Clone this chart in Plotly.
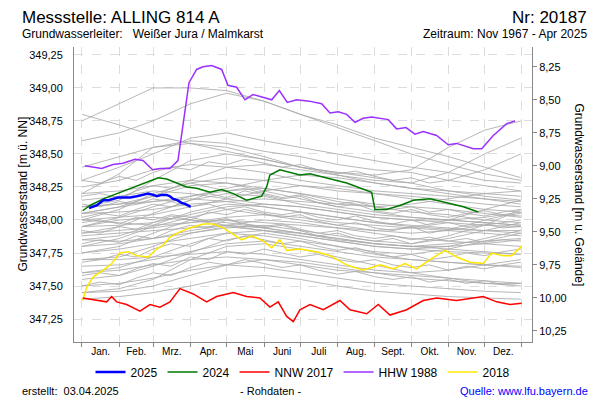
import plotly.graph_objects as go

# ---------------- data ----------------
month_names = ["Jan.", "Feb.", "Mrz.", "Apr.", "Mai", "Juni", "Juli", "Aug.", "Sept.", "Okt.", "Nov.", "Dez."]
month_starts = [0, 31, 59, 90, 120, 151, 181, 212, 243, 273, 304, 334, 365]
month_mids = [15.5, 45, 74.5, 105, 135.5, 166, 196.5, 227.5, 258, 288.5, 319, 349.5]
left_ticks = [347.25, 347.50, 347.75, 348.00, 348.25, 348.50, 348.75, 349.00, 349.25]
right_ticks = [8.25, 8.50, 8.75, 9.00, 9.25, 9.50, 9.75, 10.00, 10.25]
ground_level = 357.41

# grey background years (values at month starts)
grey_days = [0, 31, 59, 90, 120, 151, 181, 212, 243, 273, 304, 334, 364]
grey_years = [
    [348.75, 348.88, 349.00, 349.00, 348.98, 348.90, 348.80, 348.70, 348.60, 348.50, 348.42, 348.35, 348.30],
    [348.60, 348.66, 348.75, 348.88, 348.96, 348.90, 348.80, 348.72, 348.62, 348.55, 348.48, 348.40, 348.32],
    [348.80, 348.72, 348.64, 348.58, 348.52, 348.46, 348.40, 348.36, 348.32, 348.28, 348.22, 348.18, 348.15],
    [348.30, 348.40, 348.50, 348.62, 348.66, 348.60, 348.55, 348.50, 348.45, 348.40, 348.36, 348.30, 348.28],
    [348.20, 348.35, 348.55, 348.60, 348.58, 348.52, 348.48, 348.42, 348.38, 348.36, 348.30, 348.26, 348.22],
    [348.10, 348.15, 348.30, 348.45, 348.50, 348.46, 348.40, 348.36, 348.34, 348.38, 348.55, 348.68, 348.75],
    [348.05, 348.10, 348.18, 348.30, 348.40, 348.42, 348.38, 348.34, 348.30, 348.28, 348.36, 348.50, 348.62],
    [348.00, 348.08, 348.20, 348.28, 348.32, 348.30, 348.26, 348.22, 348.20, 348.18, 348.15, 348.12, 348.10],
    [347.95, 348.02, 348.10, 348.18, 348.22, 348.24, 348.20, 348.16, 348.12, 348.10, 348.08, 348.05, 348.02],
    [348.15, 348.18, 348.22, 348.20, 348.16, 348.12, 348.10, 348.06, 348.02, 348.00, 347.98, 347.96, 347.95],
    [348.10, 348.12, 348.18, 348.26, 348.28, 348.24, 348.20, 348.14, 348.10, 348.06, 348.04, 348.00, 347.98],
    [348.05, 348.06, 348.08, 348.12, 348.14, 348.16, 348.14, 348.12, 348.10, 348.12, 348.16, 348.20, 348.22],
    [347.90, 347.95, 348.05, 348.15, 348.20, 348.18, 348.12, 348.08, 348.04, 348.02, 348.00, 347.98, 347.96],
    [347.85, 347.88, 347.96, 348.06, 348.12, 348.10, 348.06, 348.02, 347.98, 347.96, 347.94, 347.92, 347.90],
    [348.00, 347.98, 347.96, 347.98, 348.02, 348.04, 348.02, 347.98, 347.96, 347.94, 347.92, 347.90, 347.88],
    [347.80, 347.86, 347.95, 348.02, 348.08, 348.04, 348.00, 347.96, 347.92, 347.90, 347.92, 347.96, 348.00],
    [347.75, 347.80, 347.90, 348.00, 347.98, 347.94, 347.90, 347.86, 347.82, 347.80, 347.78, 347.76, 347.74],
    [347.70, 347.72, 347.80, 347.90, 347.95, 347.92, 347.88, 347.84, 347.80, 347.78, 347.80, 347.86, 347.92],
    [347.95, 348.00, 348.02, 348.00, 347.96, 347.92, 347.88, 347.84, 347.80, 347.78, 347.76, 347.75, 347.74],
    [347.85, 347.84, 347.86, 347.90, 347.94, 347.96, 347.92, 347.88, 347.84, 347.82, 347.86, 347.92, 347.98],
    [347.65, 347.66, 347.70, 347.76, 347.82, 347.84, 347.80, 347.76, 347.72, 347.70, 347.68, 347.66, 347.64],
    [347.60, 347.62, 347.66, 347.70, 347.72, 347.70, 347.66, 347.62, 347.60, 347.58, 347.56, 347.54, 347.52],
    [347.50, 347.52, 347.56, 347.62, 347.66, 347.64, 347.60, 347.56, 347.52, 347.50, 347.48, 347.46, 347.45],
    [347.45, 347.48, 347.55, 347.70, 347.80, 347.82, 347.78, 347.72, 347.66, 347.60, 347.56, 347.52, 347.50],
    [347.55, 347.58, 347.65, 347.75, 347.85, 347.90, 347.86, 347.80, 347.74, 347.70, 347.68, 347.66, 347.65],
    [347.40, 347.42, 347.45, 347.50, 347.56, 347.58, 347.55, 347.50, 347.46, 347.44, 347.42, 347.41, 347.40],
    [347.70, 347.70, 347.72, 347.74, 347.76, 347.74, 347.70, 347.66, 347.62, 347.60, 347.62, 347.66, 347.70],
    [348.20, 348.22, 348.26, 348.30, 348.28, 348.22, 348.16, 348.10, 348.06, 348.02, 348.00, 347.98, 347.96],
    [347.90, 347.92, 347.94, 347.98, 348.00, 347.98, 347.96, 347.94, 347.92, 347.94, 348.00, 348.08, 348.15],
    [348.00, 348.02, 348.04, 348.10, 348.16, 348.22, 348.26, 348.24, 348.20, 348.16, 348.12, 348.08, 348.06],
    [347.80, 347.82, 347.86, 347.92, 347.96, 348.00, 347.98, 347.94, 347.90, 347.86, 347.84, 347.82, 347.80],
    [348.25, 348.30, 348.38, 348.42, 348.40, 348.36, 348.30, 348.26, 348.22, 348.20, 348.18, 348.16, 348.14],
    [348.10, 348.12, 348.14, 348.18, 348.24, 348.30, 348.34, 348.32, 348.28, 348.24, 348.22, 348.20, 348.18],
    [347.88, 347.90, 347.92, 347.94, 347.96, 347.94, 347.90, 347.85, 347.82, 347.80, 347.82, 347.84, 347.86],
    [347.60, 347.64, 347.72, 347.82, 347.90, 347.92, 347.90, 347.86, 347.82, 347.80, 347.80, 347.82, 347.85],
    [348.05, 348.10, 348.14, 348.16, 348.14, 348.10, 348.06, 348.02, 347.98, 347.95, 347.93, 347.92, 347.92],
    [347.95, 347.96, 347.98, 348.04, 348.10, 348.12, 348.10, 348.06, 348.02, 348.00, 348.00, 348.02, 348.06],
    [347.45, 347.46, 347.50, 347.58, 347.66, 347.70, 347.68, 347.64, 347.60, 347.56, 347.54, 347.52, 347.52],
    [348.40, 348.48, 348.55, 348.58, 348.55, 348.48, 348.40, 348.34, 348.28, 348.24, 348.20, 348.16, 348.12],
    [347.75, 347.78, 347.82, 347.86, 347.90, 347.88, 347.84, 347.80, 347.76, 347.74, 347.78, 347.84, 347.90],
]

# grey years with half-monthly readings
grey_days_half = [0, 15, 31, 45, 59, 74, 90, 105, 120, 135, 151, 166, 181, 196, 212, 227, 243, 258, 273,
                  288, 304, 319, 334, 349, 364]
grey_years_half = [
    [348.02, 348.05, 348.03, 348.08, 348.12, 348.10, 348.15, 348.20, 348.17, 348.22, 348.19, 348.16, 348.18,
     348.13, 348.10, 348.12, 348.07, 348.05, 348.08, 348.04, 348.02, 348.05, 348.03, 348.06, 348.08],
    [347.92, 347.90, 347.95, 347.93, 347.98, 348.03, 348.00, 348.06, 348.04, 348.08, 348.05, 348.02, 348.04,
     347.99, 347.96, 347.98, 347.94, 347.92, 347.95, 347.90, 347.93, 347.96, 348.00, 348.03, 348.05],
    [348.18, 348.20, 348.17, 348.22, 348.26, 348.24, 348.28, 348.25, 348.22, 348.24, 348.20, 348.17, 348.19,
     348.15, 348.12, 348.14, 348.10, 348.08, 348.10, 348.06, 348.08, 348.05, 348.07, 348.04, 348.03],
    [347.82, 347.85, 347.83, 347.88, 347.86, 347.92, 347.96, 347.94, 348.00, 347.97, 347.94, 347.96, 347.92,
     347.88, 347.90, 347.86, 347.84, 347.86, 347.82, 347.85, 347.88, 347.92, 347.96, 348.02, 348.08],
    [347.68, 347.70, 347.74, 347.72, 347.78, 347.82, 347.80, 347.86, 347.84, 347.88, 347.85, 347.82, 347.84,
     347.80, 347.77, 347.79, 347.75, 347.72, 347.74, 347.70, 347.72, 347.75, 347.73, 347.76, 347.78],
    [348.12, 348.10, 348.14, 348.12, 348.16, 348.14, 348.10, 348.12, 348.08, 348.10, 348.06, 348.04, 348.06,
     348.02, 348.00, 348.03, 347.99, 347.97, 348.00, 347.96, 347.98, 347.95, 347.97, 347.94, 347.95],
    [347.58, 347.60, 347.58, 347.63, 347.67, 347.65, 347.72, 347.70, 347.76, 347.74, 347.78, 347.75, 347.72,
     347.74, 347.70, 347.68, 347.70, 347.66, 347.64, 347.66, 347.62, 347.65, 347.63, 347.66, 347.68],
    [348.30, 348.28, 348.33, 348.30, 348.36, 348.40, 348.38, 348.44, 348.42, 348.46, 348.43, 348.40, 348.42,
     348.38, 348.35, 348.37, 348.33, 348.30, 348.32, 348.28, 348.30, 348.34, 348.38, 348.44, 348.50],
    [347.98, 348.00, 347.97, 348.02, 348.00, 348.04, 348.02, 347.99, 348.01, 347.97, 347.95, 347.97, 347.93,
     347.90, 347.92, 347.88, 347.86, 347.88, 347.85, 347.87, 347.84, 347.86, 347.83, 347.85, 347.84],
    [347.50, 347.53, 347.51, 347.56, 347.60, 347.58, 347.64, 347.68, 347.66, 347.70, 347.67, 347.64, 347.66,
     347.62, 347.59, 347.61, 347.57, 347.55, 347.57, 347.53, 347.55, 347.52, 347.54, 347.51, 347.52],
]

# HHW 1988
hhw_days = [2.5, 16.3, 25.7, 34, 44, 50.6, 58.6, 64.7, 73, 79.6, 88.8, 95.1, 100.4, 107.6, 115.9, 121.1,
            128.3, 135.2, 141.8, 150.1, 157.4, 163.7, 170.3, 178.1, 188.5, 198.8, 205.7, 212.6, 219.6,
            226.5, 233.3, 240.3, 254.1, 261, 268.8, 276.2, 283.1, 294.2, 303.8, 310.8, 317.7, 324.6,
            331.6, 341.2, 352.3, 359.2]
hhw_vals = [348.41, 348.39, 348.42, 348.43, 348.46, 348.45, 348.38, 348.39, 348.39, 348.45, 349.04, 349.14,
            349.16, 349.17, 349.14, 349.02, 349.005, 348.91, 348.95, 348.93, 348.91, 348.98, 348.89, 348.91,
            348.90, 348.88, 348.81, 348.82, 348.80, 348.74, 348.77, 348.78, 348.76, 348.69, 348.70, 348.65,
            348.67, 348.64, 348.57, 348.58, 348.56, 348.54, 348.54, 348.64, 348.73, 348.75]

# 2025
y2025_days = [5.8, 9, 12.2, 15, 17.7, 22, 26, 30, 34.3, 40, 45.4, 50, 55, 59, 62, 66, 70.3, 73, 75.7, 79, 82.7, 86, 90.2]
y2025_vals = [348.09, 348.10, 348.11, 348.13, 348.15, 348.15, 348.16, 348.17, 348.17, 348.17, 348.18, 348.19,
              348.20, 348.19, 348.18, 348.19, 348.19, 348.18, 348.16, 348.15, 348.13, 348.12, 348.10]

# 2024
y2024_days = [0.6, 6.6, 17.7, 31.5, 45.4, 56.4, 63.3, 70.3, 78.6, 86.8, 95.1, 106.2, 115.9, 125.5, 136.6,
              149.1, 153.2, 155.9, 164.2, 172.5, 180.8, 189.1, 203, 219.6, 240.3, 243, 252.7, 263.8, 274.9,
              288.7, 302.5, 316.3, 328.7]
y2024_vals = [348.07, 348.11, 348.16, 348.21, 348.26, 348.30, 348.32, 348.31, 348.28, 348.25, 348.24, 348.21,
              348.23, 348.20, 348.15, 348.18, 348.25, 348.34, 348.38, 348.36, 348.34, 348.35, 348.32, 348.28,
              348.21, 348.08, 348.08, 348.11, 348.15, 348.16, 348.13, 348.10, 348.06]

# NNW 2017
nnw_days = [0.6, 12.2, 20.5, 24.6, 28.8, 37.1, 48.1, 56.4, 64.7, 73, 81.3, 92.3, 103.4, 111.7, 125.5, 136.6,
            147.6, 155.9, 162.8, 169.8, 175.3, 180.8, 189.1, 200.2, 214, 222.3, 236.2, 245.8, 255.5, 269.3,
            283.1, 294.2, 310.8, 332.9, 344, 355, 364.7]
nnw_vals = [347.41, 347.39, 347.38, 347.42, 347.38, 347.36, 347.31, 347.36, 347.34, 347.38, 347.48, 347.44,
            347.38, 347.42, 347.45, 347.42, 347.41, 347.34, 347.38, 347.27, 347.23, 347.32, 347.36, 347.32,
            347.39, 347.32, 347.29, 347.36, 347.28, 347.32, 347.39, 347.41, 347.39, 347.42, 347.38, 347.36, 347.37]

# 2018
y2018_days = [0.6, 3.9, 9.4, 17.7, 24.6, 31.5, 38.4, 45.4, 55, 62, 67.4, 73, 81.3, 89.6, 100.6, 108.9, 117.2,
              125.5, 132.5, 140.8, 150.4, 157.4, 164.2, 169.8, 180.8, 194.7, 205.7, 219.6, 233.3, 247.2,
              258.2, 267.9, 277.6, 288.7, 301.1, 310.8, 321.8, 332.9, 339.8, 349.5, 356.4, 364.7]
y2018_vals = [347.39, 347.49, 347.57, 347.62, 347.67, 347.75, 347.76, 347.73, 347.72, 347.78, 347.81, 347.87,
              347.91, 347.94, 347.97, 347.97, 347.94, 347.89, 347.85, 347.88, 347.84, 347.79, 347.85, 347.77,
              347.78, 347.76, 347.73, 347.66, 347.62, 347.66, 347.63, 347.67, 347.63, 347.70, 347.77, 347.72,
              347.68, 347.67, 347.75, 347.73, 347.73, 347.80]

# ---------------- figure ----------------
FONT = "Liberation Sans, Arial, sans-serif"
GREY = "rgba(170,170,170,0.85)"
NB = "\u00a0"
fig = go.Figure()

for vals in grey_years:
    fig.add_trace(go.Scatter(x=grey_days, y=vals, mode="lines", line=dict(color=GREY, width=1),
                             showlegend=False, hoverinfo="skip"))
for vals in grey_years_half:
    fig.add_trace(go.Scatter(x=grey_days_half, y=vals, mode="lines", line=dict(color=GREY, width=1),
                             showlegend=False, hoverinfo="skip"))

fig.add_trace(go.Scatter(x=y2018_days, y=y2018_vals, mode="lines", name="2018",
                         line=dict(color="#ffe600", width=1.5), legendrank=5))
fig.add_trace(go.Scatter(x=hhw_days, y=hhw_vals, mode="lines", name="HHW 1988",
                         line=dict(color="#9b30ff", width=1.5), legendrank=4))
fig.add_trace(go.Scatter(x=nnw_days, y=nnw_vals, mode="lines", name="NNW 2017",
                         line=dict(color="#ff0000", width=1.5), legendrank=3))
fig.add_trace(go.Scatter(x=y2024_days, y=y2024_vals, mode="lines", name="2024",
                         line=dict(color="#007800", width=1.5), legendrank=2))
fig.add_trace(go.Scatter(x=y2025_days, y=y2025_vals, mode="lines", name="2025",
                         line=dict(color="#0000ff", width=2.5), legendrank=1))
# right axis carrier
fig.add_trace(go.Scatter(x=[], y=[], yaxis="y2", showlegend=False, hoverinfo="skip"))

L, R, T, B = 74, 68, 47, 58
W, H = 600, 400
pw, ph = W - L - R, H - T - B
def px(x):
    return (x - L) / pw
def py(y):
    return (H - B - y) / ph

y_lo, y_hi = 347.076, 349.31

fig.update_layout(
    width=W, height=H,
    margin=dict(l=L, r=R, t=T, b=B),
    paper_bgcolor="white", plot_bgcolor="white",
    separators=",.",
    font=dict(family=FONT, size=11, color="black"),
    showlegend=True,
    legend=dict(orientation="h", x=0.5, xanchor="center", y=py(372), yanchor="middle",
                font=dict(size=12), traceorder="normal", itemwidth=30, tracegroupgap=0,
                bgcolor="rgba(0,0,0,0)"),
    xaxis=dict(range=[-6.6, 373.3], tickvals=month_mids, ticktext=month_names, ticks="",
               showgrid=False, zeroline=False, showline=True, linecolor="#888888", linewidth=1,
               tickfont=dict(size=10),
               minor=dict(tickvals=month_starts, ticks="outside", ticklen=4, tickcolor="#888888",
                          showgrid=True, gridcolor="#dcdcdc", griddash="dash", gridwidth=1)),
    yaxis=dict(range=[y_lo, y_hi], tickvals=left_ticks, tickformat=".2f", ticks="",
               showgrid=True, gridcolor="#dcdcdc", griddash="dash", zeroline=False,
               showline=True, linecolor="#888888", linewidth=1, ticklabelstandoff=8,
               tickfont=dict(size=11)),
    yaxis2=dict(overlaying="y", side="right", range=[ground_level - y_lo, ground_level - y_hi],
                tickvals=right_ticks, tickformat=".2f", ticks="outside", ticklen=4, tickcolor="#888888",
                showgrid=False, zeroline=False, showline=True, linecolor="#888888", linewidth=1,
                tickfont=dict(size=11)),
)

ann = [
    dict(text="Messstelle: ALLING 814 A", x=px(20), y=py(17), xanchor="left", yanchor="middle",
         font=dict(size=17)),
    dict(text="Nr: 20187", x=px(589), y=py(17), xanchor="right", yanchor="middle", font=dict(size=17)),
    dict(text="Grundwasserleiter:" + NB * 3 + "Weißer Jura / Malmkarst", x=px(20), y=py(34),
         xanchor="left", yanchor="middle", font=dict(size=12)),
    dict(text="Zeitraum: Nov 1967 - Apr 2025", x=px(589), y=py(34), xanchor="right", yanchor="middle",
         font=dict(size=12)),
    dict(text="Grundwasserstand [m ü. NN]", x=px(22), y=0.5, xanchor="center", yanchor="middle",
         textangle=-90, font=dict(size=12)),
    dict(text="Grundwasserstand [m u. Gelände]", x=px(579), y=0.5, xanchor="center", yanchor="middle",
         textangle=90, font=dict(size=12)),
    dict(text="erstellt:" + NB * 2 + "03.04.2025", x=px(20), y=py(391), xanchor="left", yanchor="middle",
         font=dict(size=11)),
    dict(text="- Rohdaten -", x=px(270), y=py(391), xanchor="center", yanchor="middle",
         font=dict(size=11)),
    dict(text="Quelle: www.lfu.bayern.de", x=px(590), y=py(391), xanchor="right", yanchor="middle",
         font=dict(size=11, color="#0000ff")),
]
for a in ann:
    a.update(xref="paper", yref="paper", showarrow=False)
fig.update_layout(annotations=ann)

fig.write_html("out.html", config={"displayModeBar": False},
               post_script="document.body.style.margin='0';document.body.style.overflow='hidden';")
